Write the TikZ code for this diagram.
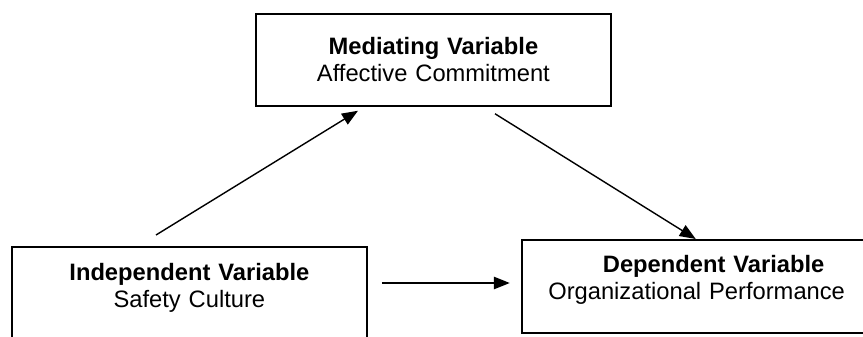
\documentclass[tikz,border=0pt]{standalone}
\usepackage{fontspec}
\setmainfont{Liberation Sans}
\usepackage{xcolor}
\usepackage{tikz}
\usetikzlibrary{positioning,calc,arrows.meta}

\begin{document}
\begin{tikzpicture}[
font=\fontsize{13.5}{15.1}\selectfont,
box/.style={rectangle, draw, line width=1pt, fill=white, inner sep=0pt, align=center},
varbox/.style={box, text width=7.1cm, text height=0.68cm, text depth=1.16cm},
arrow/.style={-{Triangle[length=0.32cm, width=0.25cm]}, line width=0.8pt}
]
\useasboundingbox (0,0) rectangle (17.26,6.72);
\clip (0,0) rectangle (17.26,6.72);

% --- VARIABLES ---
\node[varbox, anchor=north west] (indep) at (0.22,1.80) {\textbf{Independent Variable}\\Safety Culture};
\node[varbox, right=3.06cm of indep.north east, anchor=north west, yshift=0.14cm,
text width=7.0cm, text height=0.66cm, text depth=1.20cm] (dep)
{\hspace*{0.68cm}\textbf{Dependent Variable}\\Organizational Performance};
\node[varbox, anchor=north west, text height=0.82cm, text depth=1.02cm] (med) at (5.10,6.46)
{\textbf{Mediating Variable}\\Affective Commitment};

% --- PATHS ---
\draw[arrow] ([shift={(2.90,0.22)}]indep.north west) -- ([shift={(2.06,-0.08)}]med.south west);
\draw[arrow] ([shift={(4.80,-0.14)}]med.south west) -- ([xshift=3.50cm]dep.north west);
\draw[arrow] ([shift={(0.28,-0.74)}]indep.north east) -- ([shift={(-0.22,-0.88)}]dep.north west);

\end{tikzpicture}
\end{document}
